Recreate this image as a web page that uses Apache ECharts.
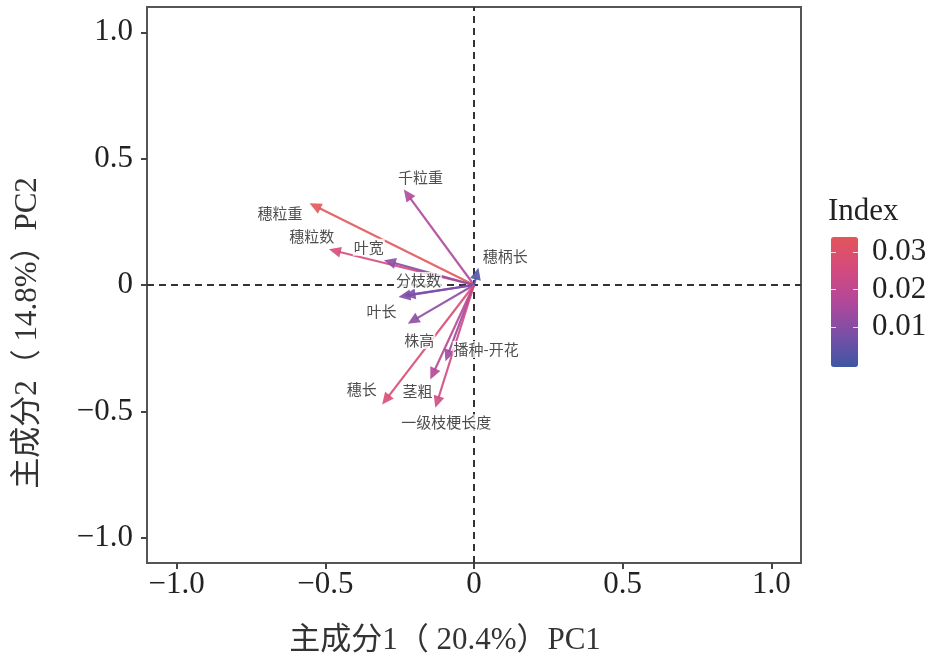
<!DOCTYPE html>
<html>
<head>
<meta charset="utf-8">
<script src="https://cdn.jsdelivr.net/npm/echarts@6/dist/echarts.min.js"></script>
<style>html,body{margin:0;padding:0;background:#fff}#c{width:930px;height:669px}</style>
</head>
<body>
<div id="c"></div>
<script>
// ---- data ----
const varNames = ['千粒重','穗粒重','穗粒数','叶宽','穗柄长','分枝数','叶长','株高','播种-开花','茎粗','穗长','一级枝梗长度'];
const pc1 = [-0.236, -0.553, -0.488, -0.303, 0.015, -0.237, -0.254, -0.223, -0.096, -0.147, -0.309, -0.130];
const pc2 = [0.378, 0.323, 0.141, 0.098, 0.068, -0.042, -0.047, -0.153, -0.302, -0.374, -0.473, -0.486];
const indexVals = [0.016, 0.034, 0.026, 0.011, 0.002, 0.008, 0.009, 0.011, 0.013, 0.018, 0.028, 0.024];
const labelX = [-0.180, -0.653, -0.546, -0.354, 0.105, -0.187, -0.311, -0.184, 0.041, -0.190, -0.378, -0.093];
const labelY = [0.426, 0.283, 0.192, 0.149, 0.113, 0.018, -0.105, -0.220, -0.255, -0.422, -0.414, -0.545];
const axisTicks = [-1, -0.5, 0, 0.5, 1];
const legendTicks = [0.01, 0.02, 0.03];
const xTitle = '主成分1（ 20.4%）PC1';
const yTitle = '主成分2（ 14.8%）PC2';
const legendTitle = 'Index';

const serif = '"Liberation Serif", "Noto Sans CJK SC", serif';
const fmt = v => v === 0 ? '0' : v.toFixed(1).replace('-', '\u2212');

const chart = echarts.init(document.getElementById('c'));
chart.setOption({
  animation: false,
  backgroundColor: '#fff',
  grid: [
    {left: 147, top: 7, width: 654, height: 556, show: true, borderColor: '#555', borderWidth: 2, backgroundColor: 'transparent'},
    {left: 831, top: 237, width: 27, height: 130, show: false}
  ],
  xAxis: [
    {type: 'value', gridIndex: 0, min: -1.1, max: 1.1,
     axisLine: {show: false, onZero: false}, splitLine: {show: false},
     axisTick: {show: true, customValues: axisTicks, length: 6, lineStyle: {color: '#444', width: 2}},
     axisLabel: {customValues: axisTicks, formatter: fmt, fontFamily: serif, fontSize: 31, color: '#222', margin: 6}},
    {type: 'value', gridIndex: 1, min: 0, max: 1, show: false}
  ],
  yAxis: [
    {type: 'value', gridIndex: 0, min: -1.1, max: 1.1,
     axisLine: {show: false, onZero: false}, splitLine: {show: false},
     axisTick: {show: true, customValues: axisTicks, length: 6, lineStyle: {color: '#444', width: 2}},
     axisLabel: {customValues: axisTicks, formatter: fmt, fontFamily: serif, fontSize: 31, color: '#222', margin: 14}},
    {type: 'value', gridIndex: 1, position: 'right', min: -0.0007, max: 0.034, z: 10,
     axisLine: {show: false, onZero: false}, splitLine: {show: false},
     axisTick: {show: true, inside: true, customValues: legendTicks, length: 5, lineStyle: {color: 'rgba(255,255,255,0.8)', width: 1}},
     axisLabel: {customValues: legendTicks, formatter: v => v.toFixed(2), fontFamily: serif, fontSize: 31, color: '#222', margin: 14}},
    {type: 'value', gridIndex: 1, position: 'left', min: -0.0007, max: 0.034, z: 10,
     axisLine: {show: false, onZero: false}, splitLine: {show: false}, axisLabel: {show: false},
     axisTick: {show: true, inside: true, customValues: legendTicks, length: 5, lineStyle: {color: 'rgba(255,255,255,0.8)', width: 1}}}
  ],
  visualMap: {
    type: 'continuous', left: 831, top: 237, itemWidth: 27, itemHeight: 130, padding: 0,
    min: -0.0007, max: 0.034, calculable: false, hoverLink: false, dimension: 2, seriesIndex: 1,
    inRange: {color: ['#3e56a4', '#7a4fa6', '#b2479b', '#d44a7e', '#e2565a']}
  },
  graphic: [
    {type: 'text', left: 828, top: 196, style: {text: legendTitle, font: '31px ' + serif, fill: '#222'}},
    {type: 'text', x: 445, y: 641, style: {text: xTitle, font: '31px ' + serif, fill: '#333', align: 'center', verticalAlign: 'middle'}},
    {type: 'text', x: 28, y: 333, rotation: Math.PI / 2, style: {text: yTitle, font: '31px ' + serif, fill: '#333', align: 'center', verticalAlign: 'middle'}}
  ],
  series: [
    {type: 'scatter', xAxisIndex: 0, yAxisIndex: 0, z: 1, symbolSize: 0, data: [[0, 0]], silent: true,
     markLine: {silent: true, z: 1, symbol: ['none', 'none'], label: {show: false},
       lineStyle: {type: [7, 5], color: '#333', width: 2},
       data: [{xAxis: 0}, {yAxis: 0}]}},
    {type: 'custom', xAxisIndex: 0, yAxisIndex: 0, z: 2, silent: true,
     encode: {x: 0, y: 1},
     data: varNames.map((n, i) => [pc1[i], pc2[i], indexVals[i]]),
     renderItem: function (params, api) {
       const o = api.coord([0, 0]);
       const p = api.coord([api.value(0), api.value(1)]);
       const color = api.visual('color');
       const dx = p[0] - o[0], dy = p[1] - o[1];
       const L = Math.hypot(dx, dy) || 1;
       const ux = dx / L, uy = dy / L;
       const hl = 12, hw = 5.5;
       const b = [p[0] - ux * hl, p[1] - uy * hl];
       const l = [b[0] - uy * hw, b[1] + ux * hw];
       const r = [b[0] + uy * hw, b[1] - ux * hw];
       return {type: 'group', children: [
         {type: 'line', shape: {x1: o[0], y1: o[1], x2: b[0] + ux * 2, y2: b[1] + uy * 2}, style: {stroke: color, lineWidth: 2.2, opacity: 0.9}},
         {type: 'polygon', shape: {points: [p, l, r]}, style: {fill: color, opacity: 0.9}}
       ]};
     }},
    {type: 'scatter', xAxisIndex: 0, yAxisIndex: 0, z: 3, symbolSize: 0, silent: true,
     data: varNames.map((n, i) => ({name: n, value: [labelX[i], labelY[i]]})),
     label: {show: true, position: 'inside', formatter: '{b}', fontFamily: '"Noto Sans CJK SC", sans-serif',
       fontSize: 15, color: '#222', backgroundColor: '#fff', padding: [1, 1]}}
  ]
});
</script>
</body>
</html>
